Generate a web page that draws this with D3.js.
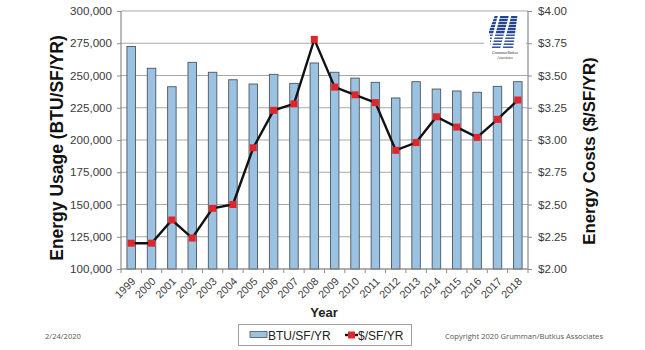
<!DOCTYPE html>
<html><head><meta charset="utf-8">
<script src="https://cdn.jsdelivr.net/npm/d3@7"></script>
<style>
html,body{margin:0;padding:0;background:#fff;}
svg{display:block;font-family:"Liberation Sans",Arial,sans-serif;}
</style></head>
<body>
<svg id="chart" width="645" height="350"></svg>
<script>
const years = ["1999","2000","2001","2002","2003","2004","2005","2006","2007","2008","2009","2010","2011","2012","2013","2014","2015","2016","2017","2018"];
const btu = [272500,255600,241300,260200,252500,246700,243400,250900,243900,259700,252500,248000,244700,232600,245200,239500,238000,237000,241600,245200];
const cost = [2.20,2.20,2.38,2.24,2.47,2.50,2.94,3.23,3.28,3.78,3.41,3.35,3.29,2.92,2.98,3.18,3.10,3.02,3.16,3.31];
const leftTicks = [100000,125000,150000,175000,200000,225000,250000,275000,300000];
const rightTicks = [2.00,2.25,2.50,2.75,3.00,3.25,3.50,3.75,4.00];

const svg = d3.select("#chart");
const L = 121, R = 528, T = 11, B = 269;
const x = d3.scaleBand().domain(years).range([L, R]).padding(0);
const yL = d3.scaleLinear().domain([100000, 300000]).range([B, T]);
const yR = d3.scaleLinear().domain([2, 4]).range([B, T]);
const fmtL = d3.format(",");
const fmtR = v => "$" + v.toFixed(2);

// gridlines
svg.append("g").selectAll("line").data(leftTicks).join("line")
  .attr("x1", L).attr("x2", R)
  .attr("y1", d => yL(d)).attr("y2", d => yL(d))
  .attr("stroke", "#a8a8a8").attr("stroke-width", 1.2);

// logo background and logo
const lg = svg.append("g");
lg.append("rect").attr("x", 484).attr("y", 13).attr("width", 42).attr("height", 52).attr("fill", "#fff");
const navy = "#24458f";
[16,19,22,25,28,31].forEach((yy)=>{
  lg.append("rect").attr("x", 489).attr("y", yy).attr("width", 33).attr("height", 2.3).attr("fill", navy);
});
[34.5,37.5,40.5,43.5,46.5].forEach((yy,i)=>{
  lg.append("rect").attr("x", 490).attr("y", yy).attr("width", 31).attr("height", 1.4).attr("fill", navy);
});
// slanted white cuts forming the M shape
lg.append("path").attr("d","M498,15 L500.5,15 L491.5,49 L489,49 Z M509,15 L511.5,15 L502.5,49 L500,49 Z M517.5,15 L523,15 L523,49 L513,49 Z").attr("fill","#fff");
lg.append("path").attr("d","M488,15 L495,15 L488,34 Z").attr("fill","#fff");
lg.append("text").attr("x", 505).attr("y", 54).attr("text-anchor","middle")
  .attr("font-size", 3.6).attr("font-family","Liberation Serif, serif").attr("fill","#333").text("Grumman/Butkus");
lg.append("text").attr("x", 505).attr("y", 59).attr("text-anchor","middle")
  .attr("font-size", 3.6).attr("font-family","Liberation Serif, serif").attr("fill","#333").text("Associates");

// bars
const bw = 8.5;
svg.append("g").selectAll("rect").data(years).join("rect")
  .attr("x", (d) => x(d) + x.bandwidth()/2 - bw/2)
  .attr("y", (d,i) => yL(btu[i]))
  .attr("width", bw)
  .attr("height", (d,i) => B - yL(btu[i]))
  .attr("fill", "#9cc2e2")
  .attr("stroke", "#4a5560").attr("stroke-width", 0.9);

// axes frame
const axisColor = "#8c8c8c";
svg.append("line").attr("x1", L).attr("x2", L).attr("y1", T).attr("y2", B).attr("stroke", axisColor).attr("stroke-width", 1.2);
svg.append("line").attr("x1", R).attr("x2", R).attr("y1", T).attr("y2", B).attr("stroke", axisColor).attr("stroke-width", 1.2);
svg.append("line").attr("x1", L).attr("x2", R).attr("y1", B).attr("y2", B).attr("stroke", axisColor).attr("stroke-width", 1.2);

// left axis
const gl = svg.append("g").attr("transform", `translate(${L},0)`)
  .call(d3.axisLeft(yL).tickValues(leftTicks).tickFormat(fmtL).tickSize(4).tickPadding(5));
gl.select(".domain").remove();
gl.selectAll(".tick line").attr("stroke", axisColor);
gl.selectAll(".tick text").attr("font-size", 11.6).attr("fill", "#3a3a3a").attr("font-family","Liberation Sans, Arial, sans-serif");

// right axis
const gr = svg.append("g").attr("transform", `translate(${R},0)`)
  .call(d3.axisRight(yR).tickValues(rightTicks).tickFormat(fmtR).tickSize(4).tickPadding(6));
gr.select(".domain").remove();
gr.selectAll(".tick line").attr("stroke", axisColor);
gr.selectAll(".tick text").attr("font-size", 11.6).attr("fill", "#3a3a3a").attr("font-family","Liberation Sans, Arial, sans-serif");

// x ticks at category boundaries
svg.append("g").selectAll("line").data(years.concat(["end"])).join("line")
  .attr("x1", (d,i) => L + i*x.bandwidth()).attr("x2", (d,i) => L + i*x.bandwidth())
  .attr("y1", B).attr("y2", B + 4).attr("stroke", axisColor);

// x labels
svg.append("g").selectAll("text").data(years).join("text")
  .attr("transform", d => `translate(${x(d)+x.bandwidth()/2+5},282) rotate(-45)`)
  .attr("text-anchor", "end")
  .attr("font-size", 10.8).attr("fill", "#3a3a3a")
  .text(d => d);

// line
const line = d3.line().x((d,i) => x(years[i]) + x.bandwidth()/2).y(d => yR(d));
svg.append("path").datum(cost).attr("d", line)
  .attr("fill", "none").attr("stroke", "#111").attr("stroke-width", 2.4).attr("stroke-linejoin","miter");
const ms = 7;
svg.append("g").selectAll("rect").data(cost).join("rect")
  .attr("x", (d,i) => x(years[i]) + x.bandwidth()/2 - ms/2)
  .attr("y", d => yR(d) - ms/2)
  .attr("width", ms).attr("height", ms)
  .attr("fill", "#e0262b");

// axis titles
svg.append("text").attr("transform", "translate(63,148) rotate(-90)")
  .attr("text-anchor","middle").attr("font-size", 17.5).attr("font-weight","bold").attr("fill","#111")
  .text("Energy Usage (BTU/SF/YR)");
svg.append("text").attr("transform", "translate(595,151) rotate(-90)")
  .attr("text-anchor","middle").attr("font-size", 16.8).attr("font-weight","bold").attr("fill","#111")
  .text("Energy Costs ($/SF/YR)");
svg.append("text").attr("x", 324).attr("y", 317).attr("text-anchor","middle")
  .attr("font-size", 13).attr("font-weight","bold").attr("fill","#222").text("Year");

// legend
const leg = svg.append("g");
leg.append("rect").attr("x", 238.5).attr("y", 324.5).attr("width", 173).attr("height", 21)
  .attr("fill","#fff").attr("stroke","#a0a0a0").attr("stroke-width",1);
leg.append("rect").attr("x", 250).attr("y", 331.5).attr("width", 17).attr("height", 6)
  .attr("fill","#9cc2e2").attr("stroke","#4a5560").attr("stroke-width",0.8);
leg.append("text").attr("x", 268).attr("y", 339.5).attr("font-size", 12).attr("fill","#222").text("BTU/SF/YR");
leg.append("line").attr("x1", 345).attr("x2", 358).attr("y1", 335).attr("y2", 335).attr("stroke","#111").attr("stroke-width",2.4);
leg.append("rect").attr("x", 348).attr("y", 331.5).attr("width", 7).attr("height", 7).attr("fill","#e0262b");
leg.append("text").attr("x", 358).attr("y", 339.5).attr("font-size", 12).attr("fill","#222").text("$/SF/YR");

// footnotes
svg.append("text").attr("x", 45).attr("y", 338.5).attr("font-size", 7.6).attr("fill","#555")
  .attr("font-family","Open Sans, sans-serif").text("2/24/2020");
svg.append("text").attr("x", 603).attr("y", 338.5).attr("text-anchor","end").attr("font-size", 7.6).attr("fill","#555")
  .attr("font-family","Open Sans, sans-serif").text("Copyright 2020 Grumman/Butkus Associates");
</script>
</body></html>
